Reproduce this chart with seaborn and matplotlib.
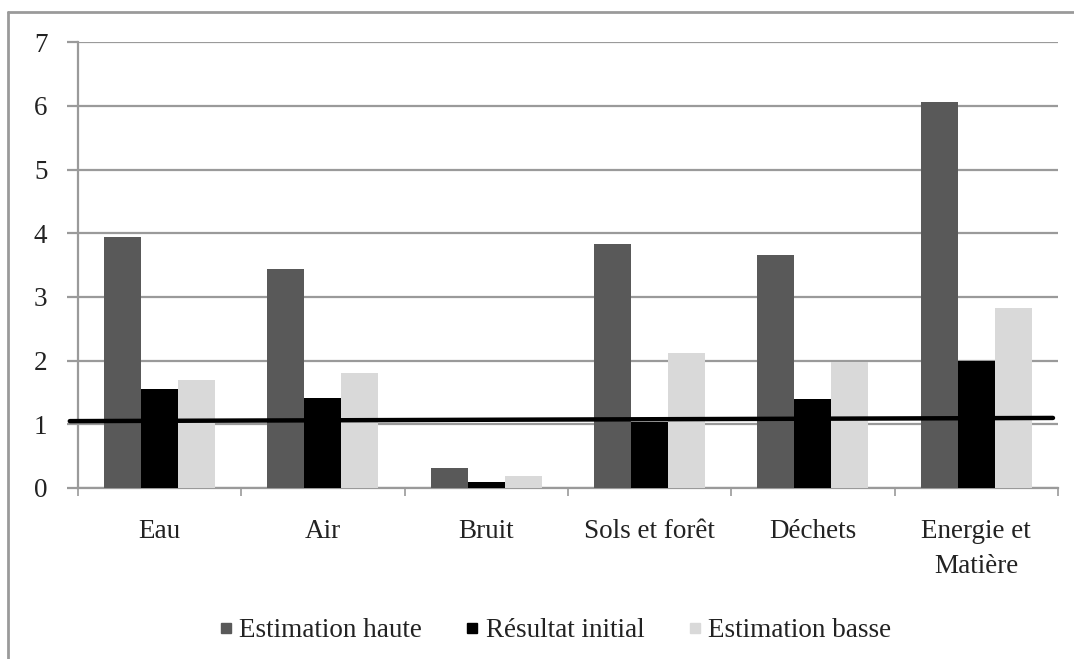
import numpy as np
import pandas as pd
import matplotlib
matplotlib.use("Agg")
import matplotlib.pyplot as plt
from matplotlib.lines import Line2D
import seaborn as sns

categories = ["Eau", "Air", "Bruit", "Sols et forêt", "Déchets", "Energie et\nMatière"]
series_names = ["Estimation haute", "Résultat initial", "Estimation basse"]
estimation_haute = [3.94, 3.44, 0.31, 3.83, 3.66, 6.06]
resultat_initial = [1.56, 1.42, 0.09, 1.04, 1.40, 2.00]
estimation_basse = [1.70, 1.80, 0.19, 2.12, 1.98, 2.82]
ref_line_x = [-0.55, 5.47]
ref_line_y = [1.05, 1.10]
y_ticks = [0, 1, 2, 3, 4, 5, 6, 7]

colors = ["#595959", "#000000", "#d9d9d9"]

df = pd.DataFrame({
    "cat": categories * 3,
    "serie": [series_names[0]] * 6 + [series_names[1]] * 6 + [series_names[2]] * 6,
    "val": estimation_haute + resultat_initial + estimation_basse,
})

sns.set_theme(style="white")
plt.rcParams["font.family"] = ["Liberation Serif", "DejaVu Serif"]

FS = 19.5
fig = plt.figure(figsize=(10.74, 6.59), dpi=100)
ax = fig.add_axes([0.0726, 0.2595, 0.985 - 0.0726, 0.936 - 0.2595])

sns.barplot(data=df, x="cat", y="val", hue="serie", hue_order=series_names,
            palette=colors, width=0.68, gap=0, saturation=1, ax=ax,
            edgecolor="none", linewidth=0, legend=False, zorder=3)

ax.set_xlim(-0.5, 5.5)
ax.set_ylim(0, 7)
ax.set_yticks(y_ticks)
ax.set_yticklabels([str(t) for t in y_ticks], fontsize=FS, color="#222222")
ax.yaxis.grid(True, color="#9a9a9a", linewidth=1.6, zorder=0)
ax.set_axisbelow(True)
ax.tick_params(axis="y", length=8, width=1.6, color="#9a9a9a", pad=14, left=True)

ax.set_xticks(range(len(categories)))
ax.set_xticklabels(categories, fontsize=FS, color="#222222", linespacing=1.55, va="top")
ax.tick_params(axis="x", length=0, pad=22)
ax.set_xticks(np.arange(-0.5, 6.0, 1.0), minor=True)
ax.tick_params(axis="x", which="minor", length=6, width=1.2, color="#9a9a9a", bottom=True, direction="out")
ax.set_xlabel("")
ax.set_ylabel("")

for s in ["top", "right"]:
    ax.spines[s].set_visible(False)
ax.spines["left"].set_color("#9a9a9a")
ax.spines["left"].set_linewidth(1.6)
ax.spines["bottom"].set_color("#9a9a9a")
ax.spines["bottom"].set_linewidth(1.6)

ax.plot(ref_line_x, ref_line_y, color="black", linewidth=3.2, clip_on=False, zorder=5)

handles = [Line2D([0], [0], marker="s", linestyle="none", markersize=7.5,
                  markerfacecolor=c, markeredgecolor=c) for c in colors]
fig.legend(handles, series_names, loc="center", bbox_to_anchor=(0.517, 0.043),
           ncol=3, frameon=False, fontsize=FS, handlelength=0.5, handletextpad=0.25,
           columnspacing=1.6, labelcolor="#222222")

# outer frame (left and top visible)
fig.add_artist(Line2D([8 / 1074, 8 / 1074], [0, 1 - 12 / 659], transform=fig.transFigure,
                      color="#9a9a9a", linewidth=2))
fig.add_artist(Line2D([8 / 1074, 1], [1 - 12 / 659, 1 - 12 / 659], transform=fig.transFigure,
                      color="#9a9a9a", linewidth=2))

fig.savefig("out.png", dpi=100, facecolor="white")
